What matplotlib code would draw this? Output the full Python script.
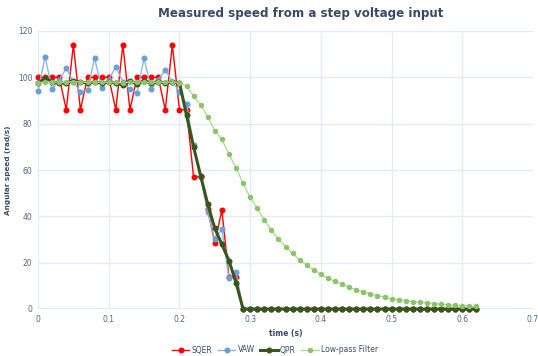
import numpy as np
import matplotlib
matplotlib.use("Agg")
import matplotlib.pyplot as plt
from matplotlib.lines import Line2D

# sample times (s)
t = [round(i * 0.01, 2) for i in range(63)]

sqer = [100, 100, 100, 100, 86, 114, 86, 100, 100, 100, 100, 86, 114, 86,
        100, 100, 100, 100, 86, 114, 86, 86, 57, 57, 43, 28.4, 42.7, 14, 14] + [0] * 34

vaw = [94, 108.9, 94.8, 99, 103.9, 98, 93.8, 94.5, 108.2, 95.3, 99, 104.6, 98, 94.8,
       93.4, 108.2, 94.8, 99, 103.2, 98, 93.8, 88.5, 71, 57, 41.7, 30.1, 34.5, 13.2, 16.1] + [0] * 34

qpr = [97.4, 99.6, 98, 97.5, 97.5, 98.6, 98, 97.5, 98, 97.5, 98, 97.6, 96.6, 98.6,
       97, 98.6, 97.5, 98.2, 97.5, 98, 97.7, 83.7, 70, 57.5, 45.3, 34.8, 27.9, 20.9, 11.4] + [0] * 34

lowpass = [97.6, 98, 98, 97.8, 97.8, 98.2, 98, 97.8, 98, 97.8, 98, 97.8, 97.6, 98,
           97.8, 98, 97.8, 98, 97.8, 98, 97.7, 96.3, 91.9, 88.1, 83, 77, 73.2, 66.8,
           61, 54.3, 48.2, 43.5, 38.5, 34.1, 30.2, 26.9, 24, 21.2, 18.9, 16.8, 15,
           13.3, 12, 10.7, 9.4, 8.3, 7.3, 6.5, 5.8, 5, 4.4, 4, 3.6, 3.2, 2.9, 2.6,
           2.3, 2, 1.8, 1.6, 1.4, 1.3, 1.1]

series_names = ["SQER", "VAW", "QPR", "Low-pass Filter"]
xticks = [0, 0.1, 0.2, 0.3, 0.4, 0.5, 0.6, 0.7]
yticks = [0, 20, 40, 60, 80, 100, 120]

text_col = "#3b4a63"
tick_col = "#506784"
grid_col = "#e6ebf3"

fig = plt.figure(figsize=(5.38, 3.56), dpi=100)
ax = fig.add_axes([38 / 538, 1 - 309 / 356, 495 / 538, 278 / 356])

styles = [
    dict(color="#ff0000", lw=1.0, ms=3.3, zorder=3),
    dict(color="#6a9fd8", lw=1.0, ms=3.3, zorder=4),
    dict(color="#38561c", lw=2.2, ms=3.3, zorder=5),
    dict(color="#8cc46a", lw=1.0, ms=2.9, zorder=6),
]
handles = []
for ys, name, st in zip([sqer, vaw, qpr, lowpass], series_names, styles):
    line_col = st["color"]
    if name == "Low-pass Filter":
        line_col = "#b3d99b"
    elif name == "VAW":
        line_col = "#8db8e6"
    ax.plot(t, ys, color=line_col, lw=st["lw"], zorder=st["zorder"], clip_on=False)
    ax.plot(t, ys, ls="none", marker="o", ms=st["ms"], color=st["color"],
            mec=st["color"], zorder=st["zorder"], clip_on=False)
    handles.append(Line2D([], [], color=line_col, lw=st["lw"], marker="o",
                          ms=st["ms"], mfc=st["color"], mec=st["color"]))

ax.set_xlim(0, 0.7)
ax.set_ylim(0, 120)
ax.set_xticks(xticks)
ax.set_xticklabels(["0", "0.1", "0.2", "0.3", "0.4", "0.5", "0.6", "0.7"])
ax.set_yticks(yticks)
ax.grid(True, color=grid_col, lw=1)
ax.set_axisbelow(True)
for s in ax.spines.values():
    s.set_visible(False)
ax.axhline(0, color=grid_col, lw=1.5, zorder=0)
ax.tick_params(length=0, labelsize=5.5, colors=tick_col, pad=4)

ax.set_xlabel("time (s)", fontsize=5.5, fontweight="bold", color=text_col, labelpad=4)
ax.set_ylabel("Angular speed (rad/s)", fontsize=5.2, fontweight="bold", color=text_col, labelpad=5)

fig.text(301 / 538, 1 - 13 / 356, "Measured speed from a step voltage input",
         ha="center", va="center", fontsize=8.6, fontweight="bold", color=text_col)

fig.legend(handles, series_names, loc="center", bbox_to_anchor=(275 / 538, 1 - 350 / 356),
           ncol=4, frameon=False, fontsize=5.5, handlelength=2.3, columnspacing=0.7,
           handletextpad=0.3, labelcolor=text_col)

fig.savefig("out.png", dpi=100)
